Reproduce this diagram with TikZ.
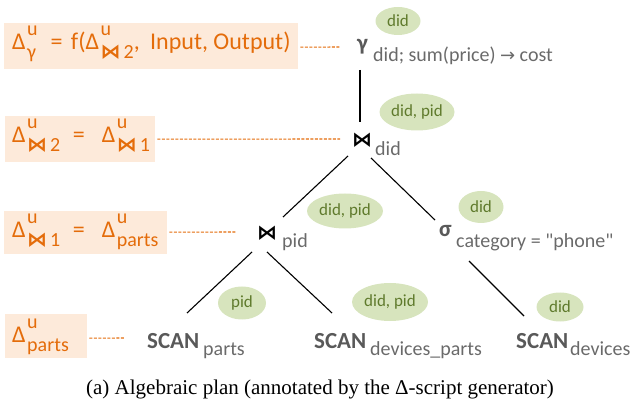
\documentclass[tikz,border=0pt]{standalone}
\usepackage{fontspec}
\setmainfont{Carlito}
\newfontfamily\dv{DejaVu Sans}
\newfontfamily\cq{Carlito}
\newfontfamily\capfont{Liberation Serif}
\definecolor{orng}{HTML}{E46C0A}
\definecolor{oboxc}{HTML}{FDEADA}
\definecolor{gfill}{HTML}{D7E4BD}
\definecolor{gtext}{HTML}{5F7A2C}
\definecolor{gry}{HTML}{595959}
\definecolor{gry2}{HTML}{6A6A6A}
\newcommand\fs[1]{\fontsize{#1}{#1}\selectfont}
\newcommand\bt{{\dv\bfseries\fs{20}⋈}\kern3pt}
\newcommand\Dl[1]{Δ\kern1.5pt\rlap{\raisebox{14pt}{\fs{20}u}}{\raisebox{-9pt}{\fs{20}#1}}}
\usetikzlibrary{shapes.geometric}
\tikzset{
  obx/.style={fill=oboxc, draw=none, inner sep=0pt, anchor=north west},
  otext/.style={text=orng, font=\fs{24}, inner sep=0pt, anchor=base west},
  odash/.style={draw=orng, line width=1.1pt, dash pattern=on 3pt off 1.5pt},
  ell/.style={ellipse, fill=gfill, draw=none, text=gtext, font=\fs{17}, inner sep=0pt},
  opsym/.style={text=gry, font=\bfseries\fs{23}, inner sep=0pt, anchor=base west},
  jsym/.style={text=black, font=\dv\bfseries\fs{20}, inner sep=0pt},
  subt/.style={text=gry2, font=\fs{20}, inner sep=0pt, anchor=base west},
  scan/.style={text=gry, font=\bfseries\fs{23}, inner sep=0pt, anchor=base west},
  edge/.style={draw=black, line width=1.1pt},
}
\begin{document}
\begin{tikzpicture}[x=1pt, y=-1pt]
\useasboundingbox (0,0) rectangle (637,403);
% orange boxes
\node[obx, minimum width=294pt, minimum height=46pt] (b1) at (4,23) {};
\node[obx, minimum width=150pt, minimum height=46pt] (b2) at (5,116) {};
\node[obx, minimum width=163pt, minimum height=43pt] (b3) at (4,211) {};
\node[obx, minimum width=82pt, minimum height=44pt] (b4) at (5,314) {};
\node[otext] (t1) at (12,50) {\Dl{γ}\hspace{9pt} =\hspace{3pt} f(\Dl{\bt2},\hspace{5pt} Input, Output)};
\node[otext] (t2) at (12,143) {\Dl{\bt2}\hspace{7pt} =\hspace{17pt}\Dl{\bt1}};
\node[otext] (t3) at (12,238) {\Dl{\bt1}\hspace{7pt} =\hspace{17pt}\Dl{parts}};
\node[otext] (t4) at (12,342) {\Dl{parts}};
% dashed connectors
\coordinate (d1) at (340,47);
\coordinate (d2) at (340,139);
\coordinate (d3) at (236,232);
\coordinate (d4) at (125,338);
\draw[odash] (b1.east) ++(2,1) -- (d1);
\draw[odash] (b2.east) ++(2,0) -- (d2);
\draw[odash] (b3.east) ++(2,-0.5) -- (d3);
\draw[odash] (b4.east) ++(2,2) -- (d4);
% operators
\node[opsym] (gam) at (357,51) {γ};
\node[subt] (gams) at (373,62) {did; sum(price) {\dv\fs{18}→} cost};
\node[jsym] (j2) at (362,140) {⋈};
\node[subt] (j2s) at (375,156) {did};
\node[jsym] (j1) at (267,233) {⋈};
\node[subt] (j1s) at (282,248) {pid};
\node[opsym] (sig) at (439,237) {σ};
\node[subt, font=\cq\fs{20}] (sigs) at (456,248) {category = "phone"};
\node[scan] (s1) at (147,348) {SCAN};
\node[subt] (s1s) at (203,355) {parts};
\node[scan] (s2) at (314,348) {SCAN};
\node[subt] (s2s) at (370,355) {devices\_parts};
\node[scan] (s3) at (516,348) {SCAN};
\node[subt] (s3s) at (570,355) {devices};
% ellipses
\node[ell, minimum width=45pt, minimum height=28pt] (e1) at (398,21) {did};
\node[ell, minimum width=75pt, minimum height=37pt] (e2) at (417,112) {did, pid};
\node[ell, minimum width=76pt, minimum height=35pt] (e3) at (345,211) {did, pid};
\node[ell, minimum width=45pt, minimum height=32pt] (e4) at (481,207) {did};
\node[ell, minimum width=48pt, minimum height=33pt] (e5) at (242,303) {pid};
\node[ell, minimum width=76pt, minimum height=38pt] (e6) at (390,302) {did, pid};
\node[ell, minimum width=47pt, minimum height=29pt] (e7) at (560,307) {did};
% tree edges
\coordinate (a1) at (360,70);   \coordinate (a2) at (360,122);
\coordinate (a3) at (348,156);  \coordinate (a4) at (283,217);
\coordinate (a5) at (371,158);  \coordinate (a6) at (435,220);
\coordinate (a7) at (252,252);  \coordinate (a8) at (187,313);
\coordinate (a9) at (267,252);  \coordinate (a10) at (332,313);
\coordinate (a11) at (469,261); \coordinate (a12) at (524,316);
\draw[edge] (a1) -- (a2);
\draw[edge] (a3) -- (a4);
\draw[edge] (a5) -- (a6);
\draw[edge] (a7) -- (a8);
\draw[edge] (a9) -- (a10);
\draw[edge] (a11) -- (a12);
% caption
\node[font=\capfont\fs{21}, inner sep=0pt, anchor=base] (cap) at (320,394) {(a) Algebraic plan (annotated by the Δ-script generator)};
\end{tikzpicture}
\end{document}
